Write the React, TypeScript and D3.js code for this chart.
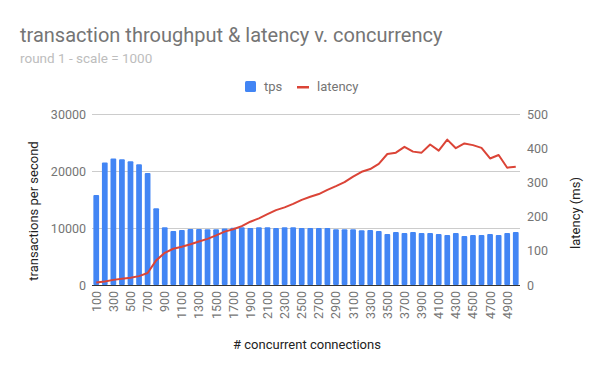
import React, { useEffect, useRef } from "react";
import * as d3 from "d3";

// concurrency levels 100..5000
const connections = [
  100, 200, 300, 400, 500, 600, 700, 800, 900, 1000,
  1100, 1200, 1300, 1400, 1500, 1600, 1700, 1800, 1900, 2000,
  2100, 2200, 2300, 2400, 2500, 2600, 2700, 2800, 2900, 3000,
  3100, 3200, 3300, 3400, 3500, 3600, 3700, 3800, 3900, 4000,
  4100, 4200, 4300, 4400, 4500, 4600, 4700, 4800, 4900, 5000,
];
const tps = [
  15800, 21500, 22200, 22050, 21700, 21200, 19650, 13450, 10150, 9470,
  9650, 9820, 9820, 9800, 9800, 9900, 10050, 10150, 10000, 10150,
  10150, 10000, 10150, 10150, 10000, 10000, 10000, 10000, 9800, 9800,
  9800, 9600, 9650, 9470, 8950, 9300, 9120, 9300, 9120, 9120,
  8950, 8770, 9120, 8600, 8770, 8770, 8950, 8770, 9120, 9300,
];
const latency = [
  7, 10, 15, 18, 21, 26, 35, 72, 94, 106,
  112, 119, 127, 135, 145, 156, 163, 172, 185, 195,
  207, 219, 227, 237, 249, 258, 266, 278, 289, 301,
  317, 331, 339, 354, 383, 387, 404, 390, 387, 411,
  393, 425, 400, 414, 409, 401, 370, 380, 343, 346,
];
const tpsTicks = [0, 10000, 20000, 30000];
const latencyTicks = [0, 100, 200, 300, 400, 500];

const W = 600;
const H = 371;
const FONT = "Roboto, sans-serif";

const App: React.FC = () => {
  const svgRef = useRef<SVGSVGElement | null>(null);

  useEffect(() => {
    const left = 92;
    const right = 520;
    const top = 114;
    const bottom = 285;

    const svg = d3.select(svgRef.current);
    svg.selectAll("*").remove();

    const x = d3
      .scaleBand<number>()
      .domain(connections)
      .range([left, right])
      .paddingInner(0.33)
      .paddingOuter(0.16);
    const yL = d3.scaleLinear().domain([0, 30000]).range([bottom, top]);
    const yR = d3.scaleLinear().domain([0, 500]).range([bottom, top]);

    svg.append("rect").attr("width", W).attr("height", H).attr("fill", "#fff");

    // title
    svg
      .append("text")
      .attr("x", 20)
      .attr("y", 42)
      .attr("font-size", 20)
      .attr("fill", "#757575")
      .text("transaction throughput & latency v. concurrency");
    svg
      .append("text")
      .attr("x", 20)
      .attr("y", 63)
      .attr("font-size", 13.5)
      .attr("fill", "#bdbdbd")
      .text("round 1 - scale = 1000");

    // legend
    const lg = svg.append("g").attr("font-size", 13).attr("fill", "#757575");
    lg.append("rect").attr("x", 245).attr("y", 81).attr("width", 11).attr("height", 11).attr("rx", 1.5).attr("fill", "#4285f4");
    lg.append("text").attr("x", 264).attr("y", 91).text("tps");
    lg.append("rect").attr("x", 297).attr("y", 86).attr("width", 12).attr("height", 2.5).attr("fill", "#db4437");
    lg.append("text").attr("x", 317).attr("y", 91).text("latency");

    // gridlines
    svg
      .append("g")
      .selectAll("line")
      .data(tpsTicks.slice(1))
      .enter()
      .append("line")
      .attr("x1", left)
      .attr("x2", right)
      .attr("y1", (d) => Math.round(yL(d)) + 0.5)
      .attr("y2", (d) => Math.round(yL(d)) + 0.5)
      .attr("stroke", "#cccccc");

    // bars
    svg
      .append("g")
      .selectAll("rect")
      .data(tps)
      .enter()
      .append("rect")
      .attr("x", (_, i) => x(connections[i]) as number)
      .attr("y", (d) => yL(d))
      .attr("width", x.bandwidth())
      .attr("height", (d) => yL(0) - yL(d))
      .attr("rx", 1)
      .attr("fill", "#4285f4");

    // baseline
    svg
      .append("line")
      .attr("x1", left)
      .attr("x2", right)
      .attr("y1", bottom + 0.5)
      .attr("y2", bottom + 0.5)
      .attr("stroke", "#333");

    // latency line
    const line = d3
      .line<number>()
      .x((_, i) => (x(connections[i]) as number) + x.bandwidth() / 2)
      .y((d) => yR(d));
    svg
      .append("path")
      .datum(latency)
      .attr("d", line)
      .attr("fill", "none")
      .attr("stroke", "#db4437")
      .attr("stroke-width", 2)
      .attr("stroke-linejoin", "round");

    // left ticks
    svg
      .append("g")
      .selectAll("text")
      .data(tpsTicks)
      .enter()
      .append("text")
      .attr("x", left - 6)
      .attr("y", (d) => yL(d) + 4.5)
      .attr("text-anchor", "end")
      .attr("font-size", 12.5)
      .attr("fill", "#757575")
      .text((d) => d);

    // right ticks
    svg
      .append("g")
      .selectAll("text")
      .data(latencyTicks)
      .enter()
      .append("text")
      .attr("x", right + 7)
      .attr("y", (d) => yR(d) + 4.5)
      .attr("font-size", 12.5)
      .attr("fill", "#757575")
      .text((d) => d);

    // x ticks, every other
    svg
      .append("g")
      .selectAll("text")
      .data(connections.filter((_, i) => i % 2 === 0))
      .enter()
      .append("text")
      .attr("transform", (d) => {
        const cx = (x(d) as number) + x.bandwidth() / 2;
        return `translate(${cx + 4.5},${bottom + 6}) rotate(-90)`;
      })
      .attr("text-anchor", "end")
      .attr("font-size", 12.5)
      .attr("fill", "#757575")
      .text((d) => d);

    // axis titles
    svg
      .append("text")
      .attr("x", 307)
      .attr("y", 349)
      .attr("text-anchor", "middle")
      .attr("font-size", 13)
      .attr("fill", "#222")
      .text("# concurrent connections");
    svg
      .append("text")
      .attr("transform", `translate(38,211) rotate(-90)`)
      .attr("text-anchor", "middle")
      .attr("font-size", 13)
      .attr("fill", "#222")
      .text("transactions per second");
    svg
      .append("text")
      .attr("transform", `translate(580,213) rotate(-90)`)
      .attr("text-anchor", "middle")
      .attr("font-size", 13)
      .attr("fill", "#222")
      .text("latency (ms)");
  }, []);

  return (
    <svg
      ref={svgRef}
      width={W}
      height={H}
      style={{ position: "absolute", left: 0, top: 0, fontFamily: FONT }}
    />
  );
};

export default App;
